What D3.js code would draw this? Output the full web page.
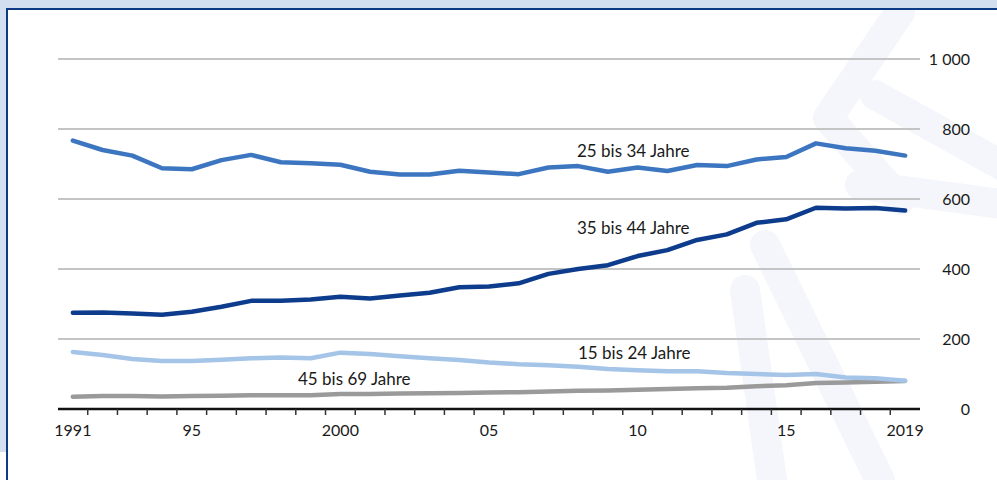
<!DOCTYPE html>
<html>
<head>
<meta charset="utf-8">
<script src="https://cdn.jsdelivr.net/npm/d3@7"></script>
<style>
    body { margin: 0; background: #fff; }
    svg { display: block; font-family: Lato, "Open Sans", sans-serif; }
</style>
</head>
<body>
<svg id="chart" width="997" height="480"></svg>
<script>
const years = d3.range(1991, 2020);
const tickLabels = {1991: "1991", 1995: "95", 2000: "2000", 2005: "05", 2010: "10", 2015: "15", 2019: "2019"};
const yTicks = [0, 200, 400, 600, 800, 1000];

const age25to34 = [767, 740, 724, 688, 685, 711, 726, 705, 702, 698, 678, 670, 670, 681, 676, 671, 690, 694, 678, 690, 680, 697, 694, 713, 720, 759, 745, 738, 724];
const age35to44 = [275, 276, 273, 269, 278, 292, 309, 309, 313, 321, 316, 324, 332, 348, 350, 359, 386, 400, 411, 437, 454, 483, 499, 532, 542, 575, 573, 574, 567];
const age15to24 = [163, 154, 143, 137, 137, 141, 145, 147, 145, 161, 157, 151, 145, 140, 133, 128, 125, 121, 114, 111, 108, 108, 103, 100, 97, 100, 90, 88, 81];
const age45to69 = [35, 37, 37, 36, 37, 38, 39, 39, 39, 43, 43, 44, 45, 46, 47, 48, 50, 52, 53, 55, 57, 59, 61, 65, 68, 74, 76, 78, 80];

const series = [
    {name: "45 bis 69 Jahre", values: age45to69, color: "#9a9a9a", lx: 298, ly: 379},
    {name: "15 bis 24 Jahre", values: age15to24, color: "#a4c4e8", lx: 578, ly: 353},
    {name: "35 bis 44 Jahre", values: age35to44, color: "#0d3c8c", lx: 577, ly: 228},
    {name: "25 bis 34 Jahre", values: age25to34, color: "#3d76c0", lx: 577, ly: 151}
];

const svg = d3.select("#chart");

// faint watermark
const wm = svg.append("g").attr("stroke", "#f4f6fb").attr("stroke-width", 30)
      .attr("stroke-linecap", "round").attr("fill", "none");
[[[900, 12], [830, 115]], [[875, 95], [1010, 170]], [[828, 118], [900, 200]],
 [[765, 245], [880, 480]], [[745, 290], [772, 480]], [[860, 185], [1010, 205]]]
    .forEach(s => wm.append("line").attr("x1", s[0][0]).attr("y1", s[0][1])
	     .attr("x2", s[1][0]).attr("y2", s[1][1]));

// frame
svg.append("rect").attr("x", 0).attr("y", 0).attr("width", 997).attr("height", 9).attr("fill", "#d3deee");
svg.append("rect").attr("x", 0).attr("y", 0).attr("width", 6).attr("height", 452).attr("fill", "#d3deee");
svg.append("rect").attr("x", 6).attr("y", 8).attr("width", 991).attr("height", 2).attr("fill", "#0d3a85");
svg.append("rect").attr("x", 6).attr("y", 8).attr("width", 2).attr("height", 472).attr("fill", "#0d3a85");

const x = d3.scalePoint().domain(years).range([58, 920]).padding(0.5);
const y = d3.scaleLinear().domain([0, 1000]).range([409, 59]);
const step = x.step();

// grid
svg.append("g").selectAll("line")
    .data(yTicks.filter(d => d > 0))
    .enter().append("line")
    .attr("x1", 58).attr("x2", 920)
    .attr("y1", d => y(d)).attr("y2", d => y(d))
    .attr("stroke", "#c4c4c4").attr("stroke-width", 2);

svg.append("g").selectAll("text")
    .data(yTicks)
    .enter().append("text")
    .attr("x", 970).attr("y", d => y(d) + 6)
    .attr("text-anchor", "end")
    .attr("font-size", 16).attr("fill", "#1a1a1a")
    .text(d => d >= 1000 ? d3.format(",")(d).replace(",", " ") : d);

// lines
const line = d3.line().x((d, i) => x(years[i])).y(d => y(d));
series.forEach(function(s) {
    svg.append("path")
	.attr("d", line(s.values))
	.attr("fill", "none")
	.attr("stroke", s.color)
	.attr("stroke-width", 4.5)
	.attr("stroke-linejoin", "round")
	.attr("stroke-linecap", "round");
    svg.append("text")
	.attr("x", s.lx).attr("y", s.ly + 6)
	.attr("font-size", 17).attr("fill", "#1a1a1a")
	.text(s.name);
});

// x axis
svg.append("line").attr("x1", 58).attr("x2", 920).attr("y1", 409).attr("y2", 409)
    .attr("stroke", "#111").attr("stroke-width", 2.5);
svg.append("g").selectAll("line")
    .data(years.slice(1))
    .enter().append("line")
    .attr("x1", d => x(d) - step / 2).attr("x2", d => x(d) - step / 2)
    .attr("y1", 409).attr("y2", 415)
    .attr("stroke", "#333").attr("stroke-width", 1.5);
svg.append("g").selectAll("text")
    .data(years.filter(d => tickLabels[d]))
    .enter().append("text")
    .attr("x", d => x(d)).attr("y", 436)
    .attr("text-anchor", "middle")
    .attr("font-size", 16).attr("fill", "#1a1a1a")
    .text(d => tickLabels[d]);
</script>
</body>
</html>
